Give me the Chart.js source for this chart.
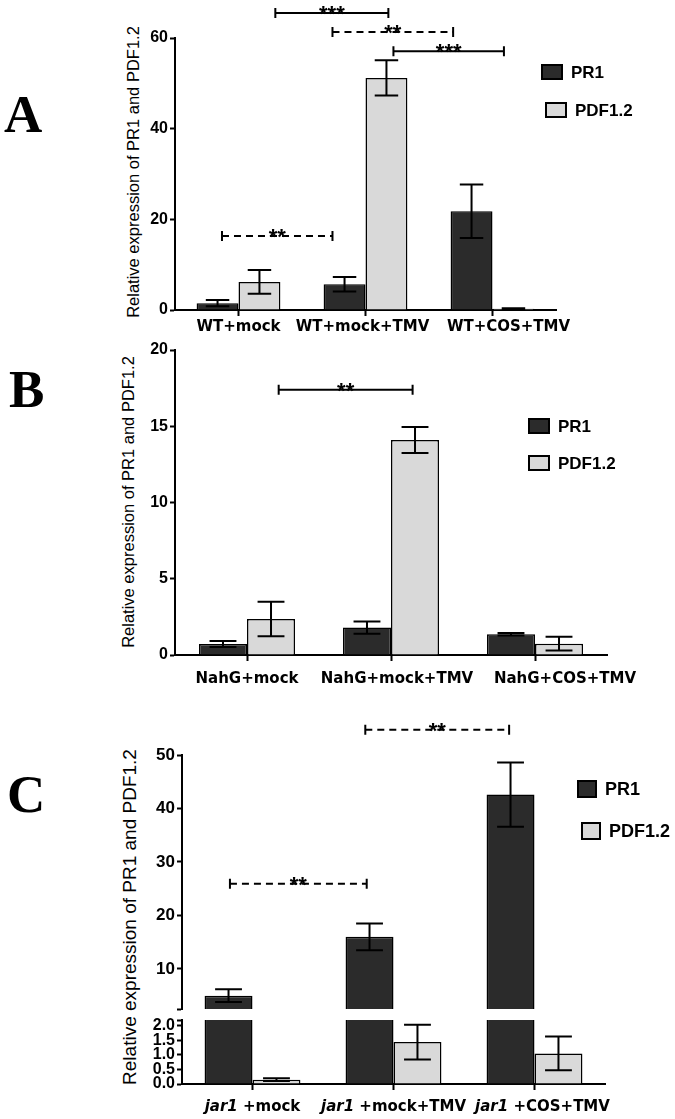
<!DOCTYPE html>
<html>
<head>
<meta charset="utf-8">
<script src="https://cdn.jsdelivr.net/npm/chart.js@4.4.1/dist/chart.umd.min.js"></script>
<style>
  body { margin: 0; background: #fff; }
  #page { position: relative; width: 675px; height: 1119px; overflow: hidden; background: #fff; }
  canvas { position: absolute; left: 0; }
  .panel { position: absolute; font: bold 53px "Liberation Serif", "DejaVu Serif", serif; line-height: 53px; }
  .ytitle { position: absolute; font-family: "Liberation Sans", Arial, sans-serif; white-space: nowrap;
            transform: translate(-50%, -50%) rotate(-90deg); }
</style>
</head>
<body>
<div id="page">
  <div class="panel" style="left:4px;top:88px">A</div>
  <div class="panel" style="left:9px;top:363px">B</div>
  <div class="panel" style="left:7px;top:768px">C</div>

  <div class="ytitle" style="left:133px;top:172px;font-size:16.5px">Relative expression of PR1 and PDF1.2</div>
  <div class="ytitle" style="left:128px;top:502px;font-size:16.5px">Relative expression of PR1 and PDF1.2</div>
  <div class="ytitle" style="left:130px;top:917px;font-size:19px">Relative expression of PR1 and PDF1.2</div>

  <canvas id="chartA" width="675" height="345" style="top:0"></canvas>
  <canvas id="chartB" width="675" height="365" style="top:335px"></canvas>
  <canvas id="chartCHigh" width="675" height="320" style="top:705px"></canvas>
  <canvas id="chartCLow" width="675" height="119" style="top:1000px"></canvas>
</div>
<script>
var seriesNames = ['PR1', 'PDF1.2'];

// panel A
var categoriesA = ['WT+mock', 'WT+mock+TMV', 'WT+COS+TMV'];
var pr1A = [1.5, 5.7, 21.8];
var pr1ErrA = [0.7, 1.6, 5.9];
var pdfA = [6.2, 51.2, 0.3];
var pdfErrA = [2.6, 3.9, 0.1];
var yTicksA = [0, 20, 40, 60];
// [from category, to category, height, stars, dashed]
var sigA = [
  [0.29, 1.18, 65.5, '***', false],
  [0.74, 1.69, 61.3, '**', true],
  [1.22, 2.09, 57.1, '***', false],
  [-0.13, 0.74, 16.3, '**', true]
];

// panel B
var categoriesB = ['NahG+mock', 'NahG+mock+TMV', 'NahG+COS+TMV'];
var pr1B = [0.72, 1.8, 1.36];
var pr1ErrB = [0.2, 0.4, 0.08];
var pdfB = [2.36, 14.1, 0.74];
var pdfErrB = [1.13, 0.85, 0.45];
var yTicksB = [0, 5, 10, 15, 20];
var sigB = [
  [0.22, 1.15, 17.4, '**', false]
];

// panel C (broken axis)
var categoriesC = ['jar1 +mock', 'jar1 +mock+TMV', 'jar1 +COS+TMV'];
var pr1C = [5.0, 16.0, 42.6];
var pr1ErrC = [1.2, 2.5, 6.0];
var pdfC = [0.15, 1.44, 1.05];
var pdfErrC = [0.05, 0.6, 0.58];
var yTicksCHigh = [10, 20, 30, 40, 50];
var yTicksCLow = [0, 0.5, 1, 1.5, 2];
var sigC = [
  [-0.16, 0.81, 25.9, '**', true],
  [0.80, 1.82, 54.7, '**', true]
];

var DARK = '#2b2b2b';
var LIGHT = '#d9d9d9';
var SANS = '"Liberation Sans", Arial, sans-serif';

var errorBars = {
  id: 'errorBars',
  afterDatasetsDraw: function(chart) {
    var ctx = chart.ctx, area = chart.chartArea, y = chart.scales.y;
    ctx.save();
    ctx.beginPath();
    ctx.rect(area.left, area.top - 1, area.right - area.left, area.bottom - area.top + 2);
    ctx.clip();
    ctx.strokeStyle = '#000';
    ctx.lineWidth = 2;
    chart.data.datasets.forEach(function(ds, di) {
      chart.getDatasetMeta(di).data.forEach(function(bar, i) {
        var hi = y.getPixelForValue(ds.data[i] + ds.errors[i]);
        var lo = y.getPixelForValue(ds.data[i] - ds.errors[i]);
        var half = bar.width * 0.28;
        ctx.beginPath();
        ctx.moveTo(bar.x, hi); ctx.lineTo(bar.x, lo);
        ctx.moveTo(bar.x - half, hi); ctx.lineTo(bar.x + half, hi);
        ctx.moveTo(bar.x - half, lo); ctx.lineTo(bar.x + half, lo);
        ctx.stroke();
      });
    });
    ctx.restore();
  }
};

function brackets(list) {
  return {
    id: 'brackets',
    afterDraw: function(chart) {
      var ctx = chart.ctx, x = chart.scales.x, y = chart.scales.y;
      ctx.save();
      ctx.strokeStyle = '#000';
      ctx.fillStyle = '#000';
      ctx.lineWidth = 2;
      list.forEach(function(b) {
        var x1 = x.getPixelForValue(b[0]), x2 = x.getPixelForValue(b[1]), yy = y.getPixelForValue(b[2]);
        ctx.setLineDash(b[4] ? [7, 5] : []);
        ctx.beginPath(); ctx.moveTo(x1, yy); ctx.lineTo(x2, yy); ctx.stroke();
        ctx.setLineDash([]);
        ctx.beginPath();
        ctx.moveTo(x1, yy - 5); ctx.lineTo(x1, yy + 5);
        ctx.moveTo(x2, yy - 5); ctx.lineTo(x2, yy + 5);
        ctx.stroke();
        ctx.font = 'bold 22px ' + SANS;
        ctx.textAlign = 'center';
        ctx.textBaseline = 'alphabetic';
        ctx.fillText(b[3], (x1 + x2) / 2, yy + 8);
      });
      ctx.restore();
    }
  };
}

function boxLegend(rows, fontSize, boxW, boxH) {
  return {
    id: 'boxLegend',
    afterDraw: function(chart) {
      var ctx = chart.ctx;
      ctx.save();
      ctx.font = 'bold ' + fontSize + 'px ' + SANS;
      ctx.textBaseline = 'middle';
      ctx.textAlign = 'left';
      chart.data.datasets.forEach(function(ds, i) {
        var r = rows[i];
        ctx.fillStyle = ds.backgroundColor;
        ctx.fillRect(r[0], r[1], boxW, boxH);
        ctx.strokeStyle = '#000';
        ctx.lineWidth = 2;
        ctx.strokeRect(r[0], r[1], boxW, boxH);
        ctx.fillStyle = '#000';
        ctx.fillText(ds.label, r[0] + boxW + 9, r[1] + boxH / 2 + 1);
      });
      ctx.restore();
    }
  };
}

// category labels under the axis; an optional italic prefix (gene name), small nudges as in the figure
function axisLabels(prefix, dy, nudge) {
  return {
    id: 'axisLabels',
    afterDraw: function(chart) {
      var ctx = chart.ctx, x = chart.scales.x, yy = chart.chartArea.bottom + dy;
      var fi = 'italic bold 15px "DejaVu Sans", sans-serif', fb = 'bold 15px "DejaVu Sans", sans-serif';
      ctx.save();
      ctx.fillStyle = '#000';
      ctx.textBaseline = 'middle';
      ctx.textAlign = 'left';
      chart.data.labels.forEach(function(lab, i) {
        var head = prefix && lab.indexOf(prefix) === 0 ? prefix : '';
        var tail = lab.slice(head.length);
        ctx.font = fi; var w1 = head ? ctx.measureText(head).width : 0;
        ctx.font = fb; var w2 = ctx.measureText(tail).width;
        var left = x.getPixelForValue(i) + nudge[i] - (w1 + w2) / 2;
        if (head) { ctx.font = fi; ctx.fillText(head, left, yy); }
        ctx.font = fb; ctx.fillText(tail, left + w1, yy);
      });
      ctx.restore();
    }
  };
}

function makePanel(id, c) {
  var tickSet = c.yTicks;
  return new Chart(document.getElementById(id), {
    type: 'bar',
    data: {
      labels: c.labels,
      datasets: [
        { label: seriesNames[0], data: c.pr1, errors: c.pr1Err, backgroundColor: DARK, borderColor: '#000',
          borderWidth: 1.5, categoryPercentage: c.catPct, barPercentage: 1, clip: 0 },
        { label: seriesNames[1], data: c.pdf, errors: c.pdfErr, backgroundColor: LIGHT, borderColor: '#000',
          borderWidth: 1.5, categoryPercentage: c.catPct, barPercentage: 1, clip: 0 }
      ]
    },
    options: {
      responsive: false,
      animation: false,
      layout: { padding: c.padding },
      plugins: { legend: { display: false }, tooltip: { enabled: false } },
      scales: {
        x: {
          display: c.showX,
          offset: true,
          grid: { display: true, drawOnChartArea: false, offset: false, tickLength: 6, tickWidth: 2, tickColor: '#000' },
          border: { display: true, color: '#000', width: 2 },
          ticks: { display: false, autoSkip: false, maxRotation: 0 },
          afterFit: function(s) { s.height = c.showX ? 30 : 0; }
        },
        y: {
          min: c.yMin,
          max: c.yMax,
          grid: { display: true, drawOnChartArea: false, tickLength: 5, tickWidth: 2, tickColor: '#000' },
          border: { display: true, color: '#000', width: 2 },
          ticks: { color: '#000', padding: 2, autoSkip: false,
                   font: { family: SANS, size: c.tickSize, weight: 'bold' },
                   callback: function(v) {
                     if (tickSet.indexOf(v) < 0) return '';
                     return c.decimals ? v.toFixed(c.decimals) : v;
                   } },
          afterBuildTicks: function(s) {
            var t = tickSet.map(function(v) { return { value: v }; });
            if (c.extraTick !== undefined) t.push({ value: c.extraTick });
            s.ticks = t;
          },
          afterFit: function(s) { s.width = 50; }
        }
      }
    },
    plugins: c.plugins
  });
}

makePanel('chartA', {
  labels: categoriesA, pr1: pr1A, pr1Err: pr1ErrA, pdf: pdfA, pdfErr: pdfErrA,
  yTicks: yTicksA, yMin: 0, yMax: 60, tickSize: 16, catPct: 0.66, showX: true,
  padding: { left: 125, right: 119, top: 38, bottom: 5 },
  plugins: [errorBars, brackets(sigA), boxLegend([[542, 65], [546, 103]], 17, 20, 14),
            axisLabels('', 17, [0, -3, 16])]
});

makePanel('chartB', {
  labels: categoriesB, pr1: pr1B, pr1Err: pr1ErrB, pdf: pdfB, pdfErr: pdfErrB,
  yTicks: yTicksB, yMin: 0, yMax: 20, tickSize: 16, catPct: 0.667, showX: true,
  padding: { left: 125, right: 68, top: 15, bottom: 15 },
  plugins: [errorBars, brackets(sigB), boxLegend([[529, 84], [529, 121]], 17, 20, 14),
            axisLabels('', 24, [0, 6, 30])]
});

makePanel('chartCHigh', {
  labels: categoriesC, pr1: pr1C, pr1Err: pr1ErrC, pdf: pdfC, pdfErr: pdfErrC,
  yTicks: yTicksCHigh, extraTick: 2.5, yMin: 2.5, yMax: 50, tickSize: 17, catPct: 0.68, showX: false,
  padding: { left: 132, right: 70, top: 50, bottom: 16 },
  plugins: [errorBars, brackets(sigC), boxLegend([[578, 76], [582, 118]], 18, 18, 16)]
});

makePanel('chartCLow', {
  labels: categoriesC, pr1: pr1C, pr1Err: pr1ErrC, pdf: pdfC, pdfErr: pdfErrC,
  yTicks: yTicksCLow, extraTick: 2.2, yMin: 0, yMax: 2.2, tickSize: 16, decimals: 1, catPct: 0.68,
  showX: true,
  padding: { left: 132, right: 70, top: 20, bottom: 5 },
  plugins: [errorBars, axisLabels('jar1', 23, [0, 0, 8])]
});
</script>
</body>
</html>
